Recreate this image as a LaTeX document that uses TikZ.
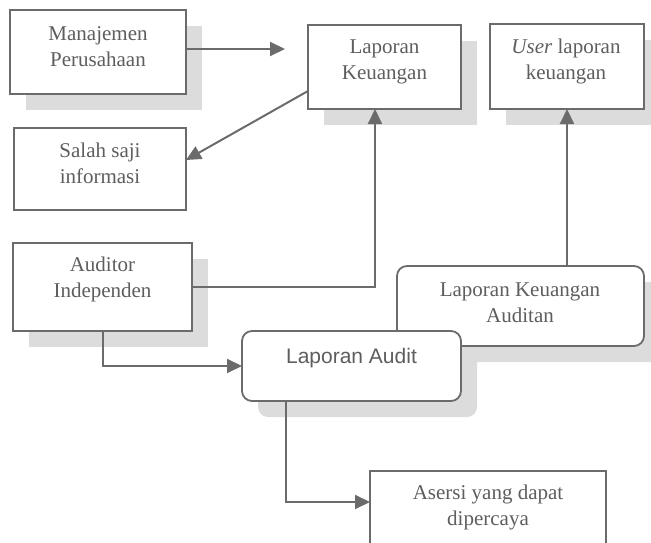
\documentclass[tikz,border=0pt]{standalone}
\usepackage{fontspec}
\setmainfont{Liberation Serif}
\setsansfont{Liberation Sans}
\usetikzlibrary{arrows.meta,shadows}
\definecolor{inkgray}{HTML}{6B6B6B}
\definecolor{textgray}{HTML}{5E5E5E}
\definecolor{shadegray}{HTML}{DCDCDC}
\tikzset{
  box/.style={draw=inkgray, line width=1.8pt, fill=white, inner sep=0pt, outer sep=0pt},
  shadowed/.style={general shadow={shadow xshift=16pt, shadow yshift=-16pt, fill=shadegray}},
  roundbox/.style={box, rounded corners=10pt},
  txt/.style={text=textgray, font=\fontsize{21}{26}\selectfont, align=center, inner sep=0pt},
  sanstxt/.style={txt, font=\sffamily\fontsize{21}{26}\selectfont},
  link/.style={draw=inkgray, line width=2pt, -{Triangle[length=15pt,width=14pt]}},
  plainlink/.style={draw=inkgray, line width=2pt},
}
\begin{document}
\begin{tikzpicture}[x=1pt,y=-1pt]
\useasboundingbox (0,0) rectangle (651,543);

% boxes
\node[box, shadowed, minimum width=176pt, minimum height=84pt] (mgmt) at (98,52) {};
\node[txt] (mgmtT) at (98,48.5) {Manajemen\strut\\Perusahaan\strut};

\node[box, minimum width=172pt, minimum height=82pt] (salah) at (100,169) {};
\node[txt] (salahT) at (100,165) {Salah saji\strut\\informasi\strut};

\node[box, shadowed, minimum width=153pt, minimum height=84pt] (lk) at (384.5,67) {};
\node[txt] (lkT) at (384.5,61.5) {Laporan\strut\\Keuangan\strut};

\node[box, shadowed, minimum width=154pt, minimum height=85pt] (user) at (567,66.5) {};
\node[txt] (userT) at (566,61.5) {\textit{User} laporan\strut\\keuangan\strut};

\node[box, shadowed, minimum width=179pt, minimum height=88pt] (aud) at (102.5,287) {};
\node[txt] (audT) at (102.5,279.5) {Auditor\strut\\Independen\strut};

\node[roundbox, shadowed, minimum width=247pt, minimum height=80pt] (lka) at (520.5,306) {};
\node[txt] (lkaT) at (520,304.5) {Laporan Keuangan\strut\\Auditan\strut};

\node[roundbox, shadowed, minimum width=219pt, minimum height=70pt] (la) at (351.5,366) {};
\node[sanstxt] (laT) at (351.5,358) {Laporan Audit};

\node[box, minimum width=236pt, minimum height=89pt] (asr) at (488,515.5) {};
\node[txt] (asrT) at (488,507.5) {Asersi yang dapat\strut\\dipercaya\strut};

% connectors
\coordinate (mgmtTip) at (285,49);
\draw[link] ([yshift=3pt]mgmt.east) -- (mgmtTip);
\draw[link] ([yshift=18pt]lk.south west) -- ([yshift=9pt]salah.east);
\draw[link] (aud.east) -| ([xshift=-9.5pt]lk.south);
\draw[link] (lka.north -| user.south) -- (user.south);
\draw[link] (aud.south) |- (la.west);
\draw[link] ([xshift=44pt]la.south west) |- ([yshift=-31pt]asr.north west);
\end{tikzpicture}
\end{document}
